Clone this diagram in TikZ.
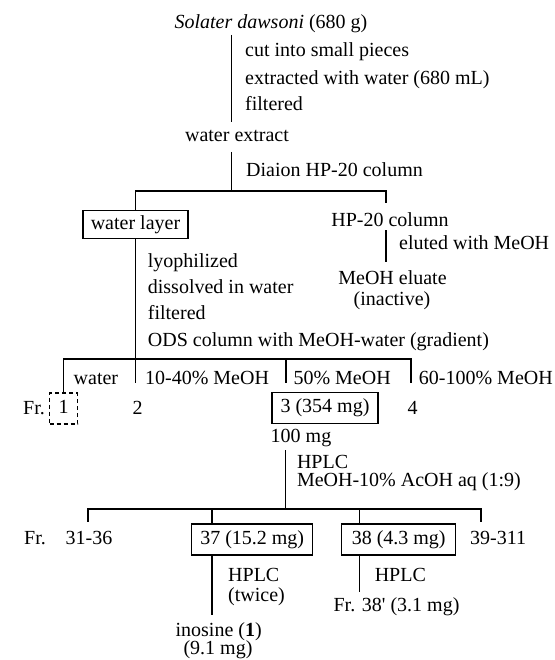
\documentclass[tikz,border=0pt]{standalone}
\usepackage{fontspec}
\setmainfont{Liberation Serif}
\newcommand\myfs{\fontsize{20}{24}\selectfont}
\begin{document}
\begin{tikzpicture}[x=1pt,y=-1pt,
  txt/.style={inner sep=0pt,text height=13pt,text depth=3.5pt,font=\myfs},
  lt/.style={txt,anchor=west},
  box/.style={draw,line width=1.3pt,inner sep=0pt,text height=13pt,text depth=3.5pt,font=\myfs},
  dbox/.style={box,line width=1.8pt,dash pattern=on 4pt off 3pt},
  ln/.style={line width=1.8pt},
  tln/.style={line width=1.4pt}]
\useasboundingbox (0,0) rectangle (554,660);
% --- top ---
\node[txt] (src) at (271,24) {\textit{Solater dawsoni} (680 g)};
\node[lt] (s1) at (245,51.7) {cut into small pieces};
\node[lt] (s2) at (245,79.3) {extracted with water (680 mL)};
\node[lt] (s3) at (245,106) {filtered};
\node[txt] (wext) at (237,136.7) {water extract};
\node[lt] (s4) at (246,171.7) {Diaion HP-20 column};
\node[box,minimum width=105pt,minimum height=27.6pt] (wl) at (135.5,224.5) {water layer};
\node[txt] (hp) at (390,222) {HP-20 column};
\node[lt] (s5) at (399,245) {eluted with MeOH};
\node[txt] (me) at (392.5,280) {MeOH eluate};
\node[txt] (ina) at (392,301) {(inactive)};
\node[lt] (s6) at (147.7,262.3) {lyophilized};
\node[lt] (s7) at (147.7,288.3) {dissolved in water};
\node[lt] (s8) at (147.7,315) {filtered};
\node[lt] (s9) at (147.7,341.7) {ODS column with MeOH-water (gradient)};
% --- ODS fractions ---
\node[lt] (e1) at (73.5,379.3) {water};
\node[lt] (e2) at (144.9,379.3) {10-40\% MeOH};
\node[lt] (e3) at (293.3,379.3) {50\% MeOH};
\node[lt] (e4) at (418.7,379.3) {60-100\% MeOH};
\node[lt] (fra) at (23,410) {Fr.};
\node[dbox,minimum width=28pt,minimum height=30.7pt] (f1) at (63.5,408.7) {1};
\node[txt] (f2) at (137.7,410) {2};
\node[box,minimum width=106pt,minimum height=31pt] (f3) at (325,407.8) {3 (354 mg)};
\node[txt] (f4) at (412.5,410) {4};
\node[txt] (hm) at (301,438) {100 mg};
\node[lt] (h1) at (296.8,463.5) {HPLC};
\node[lt] (h2) at (296.8,482) {MeOH-10\% AcOH aq (1:9)};
% --- HPLC fractions ---
\node[lt] (frb) at (24,540) {Fr.};
\node[lt] (f31) at (65.4,540) {31-36};
\node[box,minimum width=121pt,minimum height=31pt] (f37) at (252.2,539.5) {37 (15.2 mg)};
\node[box,minimum width=114pt,minimum height=31pt] (f38) at (398.7,539.5) {38 (4.3 mg)};
\node[lt] (f39) at (470,540) {39-311};
\node[lt] (h3) at (228,576.7) {HPLC};
\node[lt] (h4) at (228,596.7) {(twice)};
\node[lt] (h5) at (374.6,577) {HPLC};
\node[txt] (f38p) at (396.5,606.7) {Fr. 38\textquotesingle{} (3.1 mg)};
\node[txt] (ino) at (218.7,631.5) {inosine (\textbf{1})};
\node[txt] (inom) at (218,650) {(9.1 mg)};
% --- junction coordinates ---
\coordinate (a1) at (231.4,35);
\coordinate (a2) at (231.4,122);
\coordinate (b1) at (231.4,152);
\coordinate (b2) at (231.4,191);
\coordinate (b3) at (386,203);
\coordinate (c1) at (386,230);
\coordinate (c2) at (386,261.7);
\coordinate (d1) at (135.5,359.3);
\coordinate (d2) at (286.2,383);
\coordinate (d3) at (410.6,383);
\coordinate (d4) at (135.5,383.3);
\coordinate (g1) at (285.5,450);
\coordinate (g2) at (285.5,509);
\coordinate (g3) at (87.6,521.7);
\coordinate (g4) at (481.3,521.7);
\coordinate (k1) at (212,615);
\coordinate (k2) at (359.4,591.7);
% --- connectors ---
\draw[ln] (a1) -- (a2);
\draw[ln] (b1) -- (b2);
\draw[ln] (wl.north) -- (wl.north |- b2) -- (b3 |- b2) -- (b3);
\draw[tln] (c1) -- (c2);
\draw[ln] (wl.south) -- (d1);
\draw[ln] (f1.north) -- (f1.north |- d1) -- (d3 |- d1) -- (d3);
\draw[ln] (d1) -- (d4);
\draw[ln] (d2 |- d1) -- (d2);
\draw[ln] (g1) -- (g2);
\draw[ln] (g3) -- (g3 |- g2) -- (g4 |- g2) -- (g4);
\draw[ln] (k1 |- g2) -- (k1 |- f37.north);
\draw[ln] (k2 |- g2) -- (k2 |- f38.north);
\draw[tln] (k1 |- f37.south) -- (k1);
\draw[tln] (k2 |- f38.south) -- (k2);
\end{tikzpicture}
\end{document}
